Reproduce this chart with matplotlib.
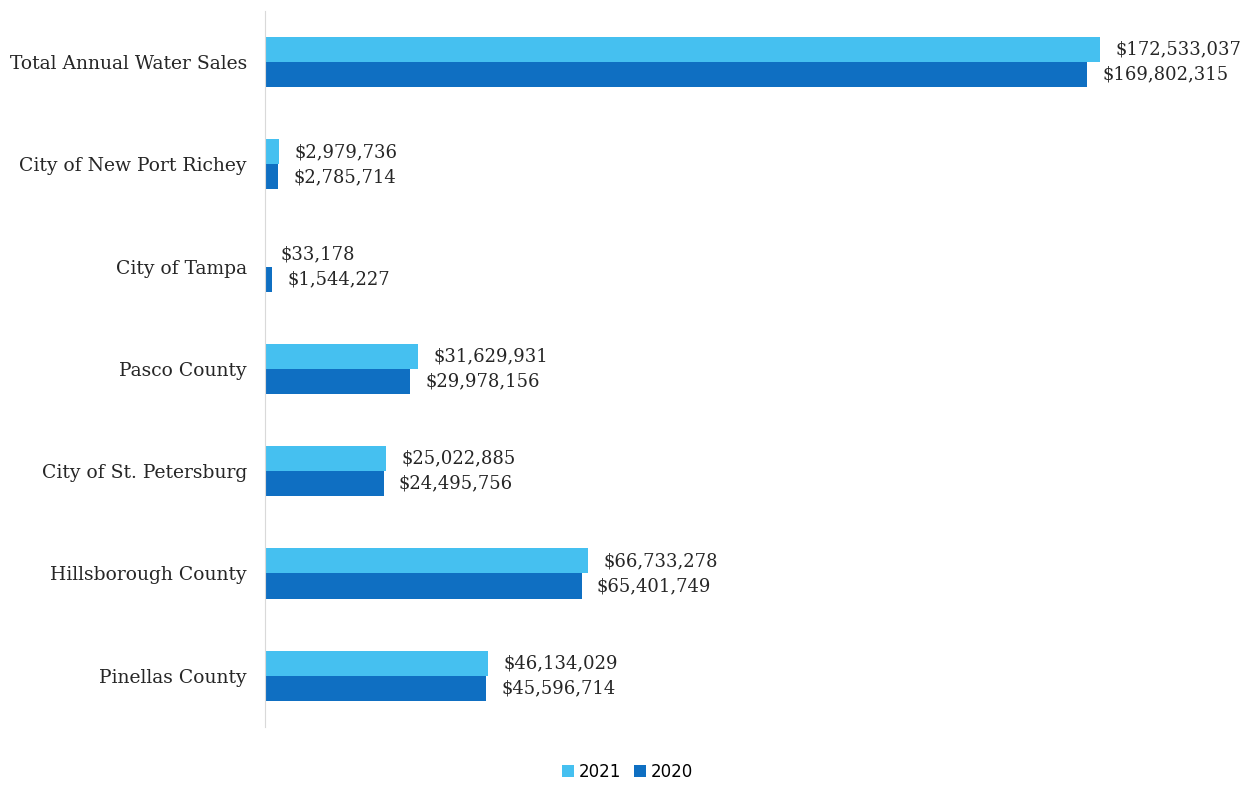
import numpy as np
import matplotlib.pyplot as plt

categories = ["Pinellas County", "Hillsborough County", "City of St. Petersburg",
              "Pasco County", "City of Tampa", "City of New Port Richey",
              "Total Annual Water Sales"]
sales_2021 = [46134029, 66733278, 25022885, 31629931, 33178, 2979736, 172533037]
sales_2020 = [45596714, 65401749, 24495756, 29978156, 1544227, 2785714, 169802315]

c2021 = "#45c0f0"
c2020 = "#0f6fc2"

fig = plt.figure(figsize=(12.48, 7.85), dpi=100)
ax = fig.add_axes([0.2123, 0.074, 0.776, 0.912])

y = np.arange(len(categories))
h = 0.245
b1 = ax.barh(y + h / 2, sales_2021, height=h, color=c2021, label="2021")
b2 = ax.barh(y - h / 2, sales_2020, height=h, color=c2020, label="2020")

for bars, vals in ((b1, sales_2021), (b2, sales_2020)):
    for bar, v in zip(bars, vals):
        ax.annotate("${:,}".format(v), (bar.get_width(), bar.get_y() + bar.get_height() / 2),
                    xytext=(11, 0), textcoords="offset points", va="center", ha="left",
                    fontsize=13, family="DejaVu Serif", color="#262626")

ax.set_xlim(0, 200e6)
ax.set_ylim(-0.5, 6.5)
ax.set_yticks(y)
ax.set_yticklabels(categories, fontsize=13.5, family="DejaVu Serif", color="#262626")
ax.tick_params(axis="y", length=0, pad=13)
ax.set_xticks([])
for s in ["top", "right", "bottom"]:
    ax.spines[s].set_visible(False)
ax.spines["left"].set_color("#d9d9d9")

fig.legend(loc="lower center", bbox_to_anchor=(0.503, -0.014), ncol=2, frameon=False,
           fontsize=12, handlelength=0.7, handleheight=0.7, handletextpad=0.3,
           columnspacing=0.8)

fig.savefig("out.png", dpi=100)
